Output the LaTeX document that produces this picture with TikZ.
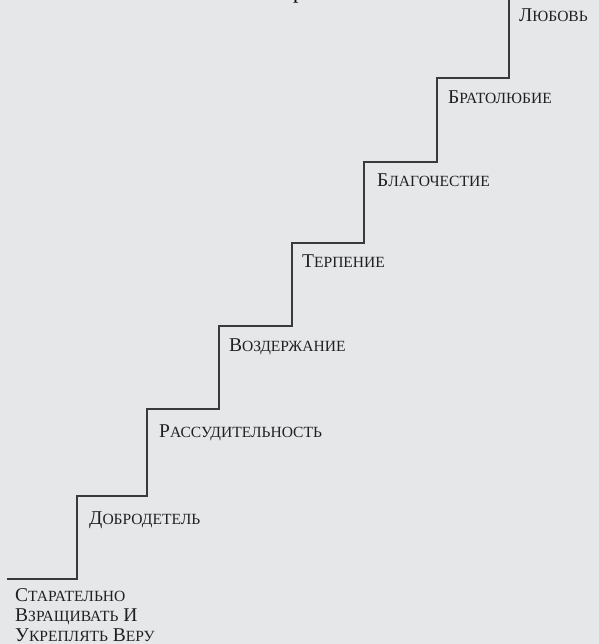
\documentclass[tikz,border=0pt]{standalone}
\usepackage{fontspec}
\setmainfont{Liberation Serif}
\definecolor{bgcol}{RGB}{230,231,232}
\definecolor{linecol}{RGB}{58,58,60}
\definecolor{textcol}{RGB}{32,32,34}
\newcommand{\capbig}{\fontsize{19.6}{20}\selectfont}
\newcommand{\capsmall}{\fontsize{15.6}{20}\selectfont}
\newcommand{\scw}[2]{{\capbig #1}{\capsmall #2}}
\begin{document}
\begin{tikzpicture}[x=1bp,y=-1bp,
  stairline/.style={draw=linecol,line width=1.5bp,line join=miter},
  steplabel/.style={anchor=base west,inner sep=0pt,text=textcol,font=\capbig}]
\fill[bgcol] (0,0) rectangle (599,644);
\useasboundingbox (0,0) rectangle (599,644);
% partial title glyph at top edge
\node[anchor=base west,inner sep=0pt,text=black,font=\fontsize{22}{22}\selectfont] (title) at (293,-1.5) {р};
% stair corners
\coordinate (s0) at (7,579);
\coordinate (s1) at (77,579);
\coordinate (s2) at (77,496);
\coordinate (s3) at (147,496);
\coordinate (s4) at (147,409);
\coordinate (s5) at (219,409);
\coordinate (s6) at (219,326);
\coordinate (s7) at (292,326);
\coordinate (s8) at (292,243);
\coordinate (s9) at (364,243);
\coordinate (s10) at (364,162);
\coordinate (s11) at (437,162);
\coordinate (s12) at (437,78);
\coordinate (s13) at (509,78);
\coordinate (s14) at (509,-2);
\draw[stairline] (s0) -- (s1) -- (s2) -- (s3) -- (s4) -- (s5) -- (s6) -- (s7) -- (s8) -- (s9) -- (s10) -- (s11) -- (s12) -- (s13) -- (s14);
% labels
\node[anchor=north west,inner sep=0pt,text=textcol,align=left,font=\capbig] (l0) at (15,588.5)
  {\scw{С}{ТАРАТЕЛЬНО}\\ \scw{В}{ЗРАЩИВАТЬ} \scw{И}{}\\ \scw{У}{КРЕПЛЯТЬ} \scw{В}{ЕРУ}};
\node[steplabel] (l1) at (89,524) {\scw{Д}{ОБРОДЕТЕЛЬ}};
\node[steplabel] (l2) at (159,437) {\scw{Р}{АССУДИТЕЛЬНОСТЬ}};
\node[steplabel] (l3) at (229,351) {\scw{В}{ОЗДЕРЖАНИЕ}};
\node[steplabel] (l4) at (302,267) {\scw{Т}{ЕРПЕНИЕ}};
\node[steplabel] (l5) at (377,187) {\scw{Б}{ЛАГОЧЕСТИЕ}};
\node[steplabel] (l6) at (448,104) {\scw{Б}{РАТОЛЮБИЕ}};
\node[steplabel] (l7) at (519,22) {\scw{Л}{ЮБОВЬ}};
\end{tikzpicture}
\end{document}
